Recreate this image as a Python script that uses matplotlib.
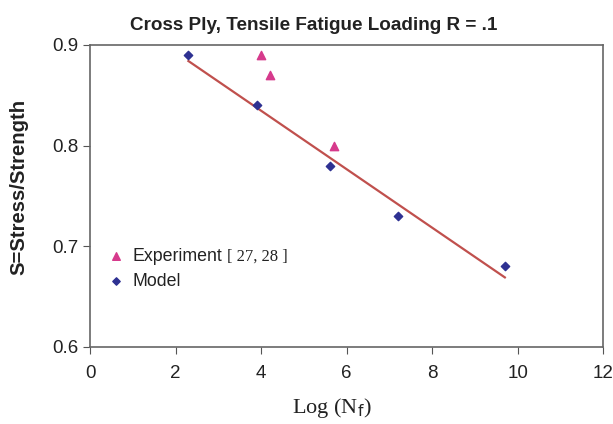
import matplotlib
matplotlib.use("Agg")
import matplotlib.pyplot as plt

model_x = [2.3, 3.9, 5.6, 7.2, 9.7]
model_y = [0.89, 0.84, 0.78, 0.73, 0.68]
exp_x = [4.0, 4.2, 5.7]
exp_y = [0.89, 0.87, 0.80]
fit_x = [2.3, 9.7]
fit_y = [0.884, 0.669]

plt.rcParams['font.family'] = ['Liberation Sans', 'DejaVu Sans']
fig = plt.figure(figsize=(6.13, 4.24), dpi=100)
ax = fig.add_axes([0.147, 0.182, 0.837, 0.712])

ax.plot(fit_x, fit_y, color='#c0504d', lw=1.6, zorder=2)
ax.scatter(exp_x, exp_y, marker='^', s=36, color='#d63a8c', zorder=3)
ax.scatter(model_x, model_y, marker='D', s=18, color='#2e3192', zorder=3)

ax.set_xlim(0, 12)
ax.set_ylim(0.6, 0.9)
ax.set_xticks(range(0, 13, 2))
ax.set_yticks([0.6, 0.7, 0.8, 0.9])
ax.set_yticklabels(['0.6', '0.7', '0.8', '0.9'])
ax.tick_params(direction='out', length=5, labelsize=13.5, color='#555555', labelcolor='#222222')
ax.tick_params(axis='x', pad=8)
for s in ax.spines.values():
    s.set_color('#666666')
    s.set_linewidth(1.2)

ax.set_title('Cross Ply, Tensile Fatigue Loading R = .1', fontsize=13.6, fontweight='bold',
             x=0.435, pad=11, color='#222222')
ax.set_ylabel('S=Stress/Strength', fontsize=14.6, fontweight='bold', color='#222222')
ax.yaxis.set_label_coords(-0.12, 0.53)
ax.set_xlabel(r'Log (N$_{\rm f}$)', fontsize=16, family='Liberation Serif', labelpad=10,
              x=0.472, color='#222222')

# legend
ax.scatter([0.6], [0.69], marker='^', s=30, color='#d63a8c', clip_on=False)
ax.text(0.98, 0.690, 'Experiment', fontsize=12.8, va='center', color='#222222')
ax.text(3.2, 0.690, '[ 27, 28 ]', fontsize=12, va='center', family='Liberation Serif', color='#222222')
ax.scatter([0.6], [0.665], marker='D', s=14, color='#2e3192')
ax.text(0.98, 0.665, 'Model', fontsize=12.8, va='center', color='#222222')

fig.savefig('out.png', dpi=100)
